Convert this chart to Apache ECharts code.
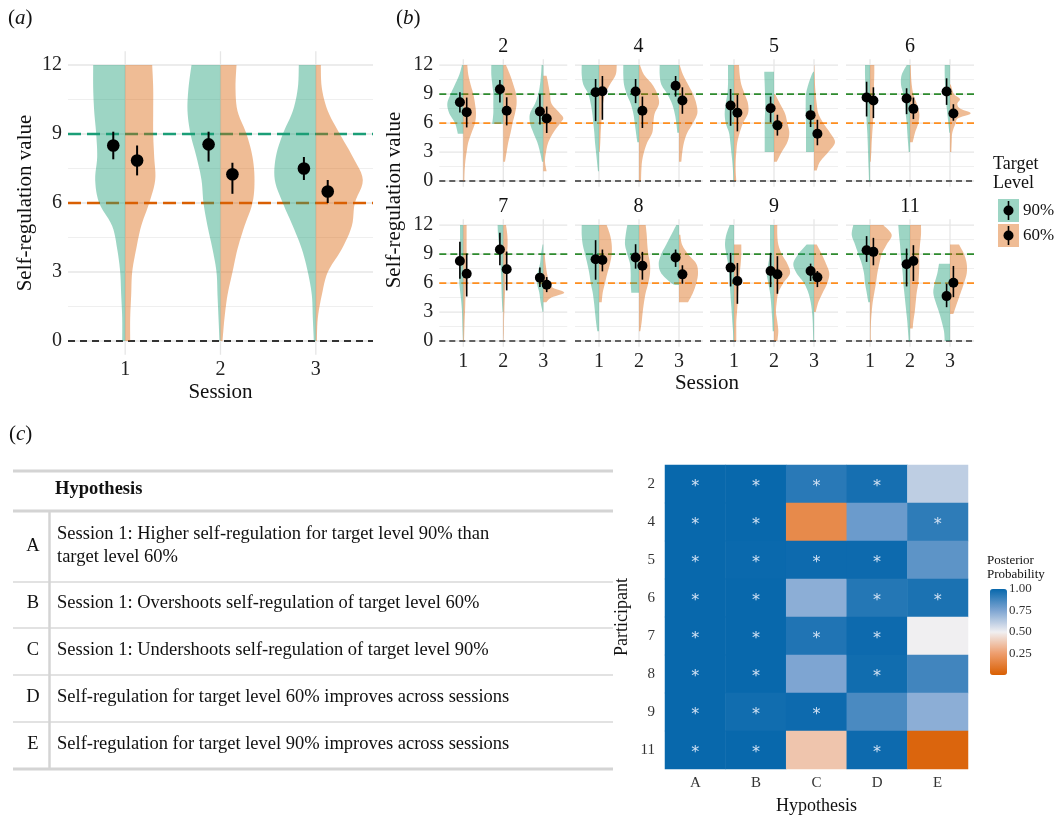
<!DOCTYPE html>
<html><head><meta charset="utf-8">
<script src="https://cdn.jsdelivr.net/npm/echarts@6/dist/echarts.min.js"></script>
<style>html,body{margin:0;padding:0;background:#fff}#c{width:1055px;height:816px}</style>
</head><body><div id="c"></div>
<script>
// ---------------- DATA ----------------
const sessions = ['1', '2', '3'];
const yTicks = [0, 3, 6, 9, 12];
const yGrid = [0, 1.5, 3, 4.5, 6, 7.5, 9, 10.5, 12];
const targetLines = [9, 6, 0];
const levelNames = ['90%', '60%'];

// Panel (a): violin half-widths (relative density) at y = 0..12
const aLevels = [0, 1, 2, 3, 4, 5, 6, 7, 8, 9, 10, 11, 12];
const a90 = [
  [3, 3, 4, 5, 8, 13, 26, 30, 28, 29, 31, 32, 32],
  [1, 2, 3, 4, 8, 13, 17, 19, 24, 30, 33, 32, 29],
  [2, 3, 4, 8, 14, 23, 33, 41, 40, 33, 23, 18, 17]
];
const a60 = [
  [5, 5, 6, 7, 11, 16, 24, 30, 29, 28, 28, 28, 27],
  [2, 4, 7, 12, 17, 24, 32, 34, 32, 26, 17, 15, 16],
  [1, 2, 6, 12, 26, 36, 39, 47, 37, 24, 12, 6, 5]
];
// estimate, lower, upper
const aEst90 = [[8.5, 7.9, 9.1], [8.55, 7.8, 9.1], [7.5, 7.0, 8.0]];
const aEst60 = [[7.85, 7.2, 8.5], [7.25, 6.4, 7.75], [6.5, 6.0, 7.0]];

// Panel (b): participants, violin profiles [value, density] per session
const participants = ['2', '4', '5', '6', '7', '8', '9', '11'];
const p2_90 = [
  [[12,1.3],[11,4],[10,8.3],[9,12.7],[8,16],[7,14],[6,8.3],[5,5.7],[4.9,5.7]],
  [[12,12],[11,12],[10,11],[9,10],[8,10],[7,10],[6,11],[5.9,11]],
  [[12,1.7],[11,2.3],[10,3.3],[9,5],[8,8.3],[7,13.3],[6,13.3],[5,10],[4,6],[3,3.3],[2,1.3]]
];
const p2_60 = [
  [[12,4],[11,5],[10,7.3],[9,10],[8,11.7],[7,12.7],[6,11.7],[5,8.3],[4,5],[3,3.3],[2,2],[1,1.3],[0,1]],
  [[12,2.7],[11,6.7],[10,10],[9,12.7],[8,13.3],[7,11.7],[6,9.3],[5,7.3],[4,5],[3,3.3],[2,1.7]],
  [[10.9,3.3],[10,5],[9,6.7],[8,8.3],[7,16.7],[6.5,20],[6,17],[5,10],[4,5],[3,2.7],[2,1.7],[1,3.3]]
];
const p4_90 = [
  [[12,17.3],[11,17.3],[10,15.7],[9,10.7],[8,8.3],[7,6.7],[6,5.7],[5,4.7],[4,4],[3,3],[2,2],[1,1]],
  [[12,15.7],[11,15.7],[10,15],[9,12.3],[8,8.3],[7,5.7],[6,4.3],[5,3],[4,1.7]],
  [[12,19.3],[11,19.3],[10,17.7],[9,11.7],[8,7],[7,4.3],[6,2.7],[5,1.7]]
];
const p4_60 = [
  [[12,17.7],[11,16.7],[10,11],[9,6],[8,4],[7,3],[6,2.3],[5,1.7],[4,1.3],[3,0.7]],
  [[12,1],[11,5],[10,13.3],[9,18.3],[8,20],[7,15.7],[6,14.3],[5,13.3],[4,8.3],[3,5],[2,3],[1,2.3],[0,2]],
  [[12,0.7],[11,4],[10,9],[9,14],[8,17.3],[7,18.3],[6,14],[5,8.3],[4,5],[3,3.3],[2,2.3]]
];
const p5_90 = [
  [[12,6],[11,6],[10,6],[9,6.7],[8,8.3],[7,9.3],[6,8.3],[5,5],[4,3.7],[3,2.7],[2,1.7],[1,1],[0,0.7]],
  [[11.3,9.7],[11,9.7],[10,9.3],[9,9],[8,8.7],[7,9],[6,9.3],[5,9.3],[4,9.3],[3,9.3]],
  [[11.3,0.7],[11,2.3],[10,5.7],[9,8],[8,8.3],[7,8.3],[6,8],[5,8],[4,8],[3,8]]
];
const p5_60 = [
  [[12,5],[11,5.7],[10,7.3],[9,10.7],[8,14],[7,14],[6,9],[5,5.7],[4,3.3],[3,2.3],[2,1.7],[1,1.7],[0,2.3]],
  [[9,1],[8,6],[7,11],[6,13.3],[5,15.3],[4,13.3],[3,7.7],[2,2.7]],
  [[12,0.3],[11,0.7],[10,1],[9,1.7],[8,2.7],[7,4.3],[6,9.3],[5,16],[4,21],[3,14.3],[2,6],[1.1,2.7]]
];
const p6_90 = [
  [[12,5],[11,5],[10,4.7],[9,4.3],[8,4],[7,3.7],[6,3.3],[5,2.7],[4,2.3],[3,2],[2,1.7],[1,1.3],[0,1]],
  [[12,3.3],[11,8.3],[10,9],[9,6.7],[8,5],[7,4.3],[6,3.3],[5,2.7],[4,2],[3,1.3]],
  [[12,5.3],[11,5.3],[10,5],[9,4.3],[8,3.7],[7,2.7],[6,1.7],[5,0.7]]
];
const p6_60 = [
  [[12,4.3],[11,4.3],[10,4],[9,4],[8,3.7],[7,3.3],[6,3],[5,2.3],[4,1.7],[3,1.3],[2,0.7]],
  [[12,0.7],[11,1],[10,1.7],[9,3.3],[8,6.7],[7,9.3],[6,8.3],[5,5],[4,2.7]],
  [[10,0.7],[9,4],[8.5,10],[8,7.3],[7.5,10],[7,20.7],[6.5,8],[6,5.7],[5,2.3],[4,1.7],[3,1.3]]
];
const p7_90 = [
  [[12,3.3],[11,3.3],[10,3.3],[9,3.7],[8,4],[7,4],[6,4],[5,3],[4,2],[3,1.3],[2,1],[1,0.7],[0,0.3]],
  [[12,5.7],[11,5.3],[10,4.3],[9,3.3],[8,2.7],[7,2.3],[6,2],[5,1.7],[4,1.3],[3,0.7]],
  [[10,0.7],[9,2.3],[8,3.3],[7,5.7],[6,6.3],[5,4],[4,2.7],[3,0.7]]
];
const p7_60 = [
  [[12,3.3],[11,3.3],[10,3.3],[9,3.3],[8,3],[7,3],[6,2.7],[5,2.3],[4,2],[3,1.7],[2,1.3],[1,1],[0,0.7]],
  [[12,2.7],[11,4],[10,4.3],[9,3.7],[8,3],[7,2.3],[6,2],[5,1.7],[4,1.3],[3,1],[2,0.7],[1,0.7],[0,0.3]],
  [[9,1.3],[8,2.3],[7,3.7],[6,6],[5.5,10],[5,21],[4.5,8],[4,3]]
];
const p8_90 = [
  [[12,17.3],[11,17.3],[10,16.3],[9,14],[8,11.7],[7,9.7],[6,8.3],[5,6.3],[4,5],[3,4],[2,3],[1,1.7]],
  [[12,11.7],[11,13.3],[10,14],[9,11.7],[8,9],[7,8.3],[6,8.3],[5,7.7]],
  [[12,2.7],[11,7.7],[10,12.7],[9,17.7],[8,20.3],[7,17.7],[6,7.7],[5.8,4]]
];
const p8_60 = [
  [[12,7.7],[11,11],[10,12.7],[9,12.7],[8,11],[7,8.3],[6,6],[5,3.7],[4,2.7]],
  [[12,6.7],[11,7.7],[10,8.3],[9,9.3],[8,11],[7,11],[6,9.3],[5,6.7],[4,5],[3,3.7],[2,2.7],[1,1.3]],
  [[11,1.3],[10,3],[9,9],[8,17.3],[7,19],[6,17.3],[5,14],[4,9]]
];
const p9_90 = [
  [[12,4.3],[11,7.7],[10,9],[9,7.7],[8,6],[7,5],[6,4.3],[5,3.7],[4,3],[3,2.3],[2,1.7],[1,1],[0,0.7]],
  [[12,4],[11,4],[10,4],[9,4],[8,5.7],[7,7.3],[6,5.7],[5,4],[4,3],[3,2.3],[2,1.7],[1,1.3]],
  [[10,7.3],[9,15.7],[8,20.7],[7,17.3],[6,10],[5,5.7],[4,3.3],[3,2],[2,1.3],[1,1],[0,0.7]]
];
const p9_60 = [
  [[10,7.3],[9,7.3],[8,6.7],[7,5.7],[6,5],[5,4.3],[4,3.7],[3,3],[2,2.3],[1,2.3],[0,2.3]],
  [[12,3.3],[11,3.3],[10,4.3],[9,7.7],[8,13.3],[7,16],[6,9.3],[5,4.3],[4,2.7],[3,2],[2,3.3],[1,4.3],[0,3.3]],
  [[10,2.7],[9,7.7],[8,12],[7,15.3],[6,13.3],[5,8.7],[4,4.3],[3,1.7]]
];
const p11_90 = [
  [[12,16.7],[11,18.3],[10,15],[9,11.7],[8,8.3],[7,6],[6,5],[5,3.3],[4,1.7]],
  [[12,11.7],[11,11],[10,10],[9,9.3],[8,8.3],[7,7.3],[6,6.7],[5,5.7],[4,4.7],[3,3.7],[2,2.7],[1,2],[0,1.3]],
  [[8,11],[7,12.7],[6,15.3],[5,16.7],[4,14.3],[3,11],[2,8.3],[1,6],[0,5.3]]
];
const p11_60 = [
  [[12,13.3],[11,21.7],[10,16.7],[9,11.7],[8,9.3],[7,7.3],[6,6],[5,4.3],[4,2.7],[3,1.7],[2,1],[1,0.7],[0,0.7]],
  [[12,11],[11,11],[10,10],[9,9.3],[8,9.3],[7,9],[6,8.3],[5,6.7],[4,5.7],[3,4.7],[2,3.3],[1.3,2.7]],
  [[10,9],[9,14],[8,16.7],[7,16.7],[6,14],[5,10.7],[4,7.3],[2.8,3.3]]
];
// estimates per participant: [estimate, lower, upper] for sessions 1..3
const bEst90 = [
  [[8.16,7.1,9.19],[9.5,8.12,10.46],[7.2,5.86,8.98]],
  [[9.19,6.2,10.56],[9.26,8.06,10.56],[9.87,8.74,10.87]],
  [[7.82,5.72,9.53],[7.54,6.07,8.74],[6.82,5.59,7.88]],
  [[8.64,6.68,10.28],[8.54,6.92,9.6],[9.26,7.88,10.63]],
  [[8.29,6.45,10.27],[9.47,7.84,11.2],[6.56,5.58,7.6]],
  [[8.46,6.35,10.44],[8.64,7.49,10.02],[8.64,7.67,9.47]],
  [[7.6,5.65,9.12],[7.25,5.58,9.12],[7.25,6.21,8.01]],
  [[9.4,8.19,10.86],[7.94,5.65,9.57],[4.65,3.5,5.93]]
];
const bEst60 = [
  [[7.13,5.55,8.64],[7.27,5.76,8.67],[6.48,4.97,7.71]],
  [[9.29,6.34,10.87],[7.27,5.49,8.74],[8.33,6.96,9.7]],
  [[7.06,5.14,8.91],[5.76,4.7,6.86],[4.9,3.7,6.34]],
  [[8.33,6.51,9.7],[7.47,6.41,8.64],[6.99,6.24,7.95]],
  [[6.97,4.61,9.05],[7.42,5.24,9.26],[5.83,5.06,6.62]],
  [[8.39,7.21,9.47],[7.8,6.35,9.23],[6.9,5.93,7.84]],
  [[6.21,3.85,8.08],[6.9,4.89,8.78],[6.59,5.58,7.25]],
  [[9.23,7.84,10.68],[8.29,6.21,9.92],[6.04,4.54,7.77]]
];

// Panel (c): hypotheses table + posterior probabilities
const hypotheses = ['A', 'B', 'C', 'D', 'E'];
const hypText = [
  'Session 1: Higher self-regulation for target level 90% than\ntarget level 60%',
  'Session 1: Overshoots self-regulation of target level 60%',
  'Session 1: Undershoots self-regulation of target level 90%',
  'Self-regulation for target level 60% improves across sessions',
  'Self-regulation for target level 90% improves across sessions'
];
const postA = [1, 1, 1, 1, 1, 1, 1, 1];
const postB = [1, 1, 0.995, 1, 1, 1, 0.98, 1];
const postC = [0.93, 0.17, 0.99, 0.72, 0.95, 0.75, 0.99, 0.37];
const postD = [0.97, 0.79, 0.99, 0.94, 0.99, 0.98, 0.86, 0.99];
const postE = [0.61, 0.92, 0.82, 0.96, 0.5, 0.88, 0.72, 0.025];
const sigA = [1, 1, 1, 1, 1, 1, 1, 1];
const sigB = [1, 1, 1, 1, 1, 1, 1, 1];
const sigC = [1, 0, 1, 0, 1, 0, 1, 0];
const sigD = [1, 0, 1, 1, 1, 1, 0, 1];
const sigE = [0, 1, 0, 1, 0, 0, 0, 0];
const cbTicks = [0.25, 0.5, 0.75, 1];

// ---------------- STYLE / BUILD ----------------
const FONT = '"Liberation Serif", "Times New Roman", serif';
const G_FILL = 'rgba(27,158,119,0.43)';
const O_FILL = 'rgba(217,95,2,0.42)';
const TICK_FS = 20, TITLE_FS = 21, TABLE_FS = 18.5;
const bV90 = [p2_90, p4_90, p5_90, p6_90, p7_90, p8_90, p9_90, p11_90];
const bV60 = [p2_60, p4_60, p5_60, p6_60, p7_60, p8_60, p9_60, p11_60];

function smoothPts(pts, n) {
  if (pts.length < 3) return pts;
  const out = [pts[0]];
  for (let i = 0; i < pts.length - 1; i++) {
    const p0 = pts[Math.max(i - 1, 0)], p1 = pts[i], p2 = pts[i + 1], p3 = pts[Math.min(i + 2, pts.length - 1)];
    for (let k = 1; k <= n; k++) {
      const t = k / n, t2 = t * t, t3 = t2 * t;
      const f = (a, b, c, d) => 0.5 * (2 * b + (-a + c) * t + (2 * a - 5 * b + 4 * c - d) * t2 + (-a + 3 * b - 3 * c + d) * t3);
      out.push([f(p0[0], p1[0], p2[0], p3[0]), f(p0[1], p1[1], p2[1], p3[1])]);
    }
  }
  return out;
}
function violinShape(api, profile, center, side, scale, fill) {
  const pts = profile.map(([y, w]) => api.coord([center + side * w * scale, y]));
  const cx = api.coord([center, 0])[0];
  const sm = smoothPts(pts, 6).map(p => [side < 0 ? Math.min(p[0], cx) : Math.max(p[0], cx), p[1]]);
  const top = api.coord([center, profile[0][0]]);
  const bot = api.coord([center, profile[profile.length - 1][0]]);
  return { type: 'polygon', shape: { points: [top].concat(sm, [bot]) }, style: { fill: fill, stroke: null } };
}

const grids = [], xAxes = [], yAxes = [], series = [];
function addGridLines(gi) {
  const data = yGrid.map(v => [0, v]).concat([1, 2, 3].map(v => [1, v]));
  series.push({
    type: 'custom', xAxisIndex: gi, yAxisIndex: gi, z: 1, silent: true, data: data,
    renderItem: (params, api) => {
      const cs = params.coordSys, o = api.value(0), v = api.value(1);
      const major = o === 1 || v % 3 === 0;
      const st = { stroke: major ? '#e6e6e6' : '#efefef', lineWidth: major ? 1.3 : 1 };
      if (o === 0) { const y = api.coord([1, v])[1]; return { type: 'line', shape: { x1: cs.x, y1: y, x2: cs.x + cs.width, y2: y }, style: st }; }
      const x = api.coord([v, 0])[0];
      return { type: 'line', shape: { x1: x, y1: cs.y, x2: x, y2: cs.y + cs.height }, style: st };
    }
  });
}
function addRefLines(gi, colors, widths, dashes) {
  series.push({
    type: 'custom', xAxisIndex: gi, yAxisIndex: gi, z: 2, silent: true,
    data: targetLines.map((v, i) => [i, v]),
    renderItem: (params, api) => {
      const cs = params.coordSys, i = api.value(0), y = api.coord([1, api.value(1)])[1];
      return { type: 'line', shape: { x1: cs.x, y1: y, x2: cs.x + cs.width, y2: y }, style: { stroke: colors[i], lineWidth: widths[i], lineDash: dashes[i] } };
    }
  });
}
function addViolins(gi, v90, v60, scale, isA) {
  const data = [];
  for (let s = 0; s < 3; s++) for (let l = 0; l < 2; l++) data.push([s + 1, l]);
  series.push({
    type: 'custom', xAxisIndex: gi, yAxisIndex: gi, z: 3, silent: true, data: data,
    renderItem: (params, api) => {
      const s = api.value(0), l = api.value(1);
      let prof = (l === 0 ? v90 : v60)[s - 1];
      if (isA) prof = aLevels.map((y, k) => [y, prof[k]]).reverse();
      return violinShape(api, prof, s, l === 0 ? -1 : 1, scale, l === 0 ? G_FILL : O_FILL);
    }
  });
}
function addPoints(gi, e90, e60, dodge, r, lw) {
  const data = [];
  for (let s = 0; s < 3; s++) for (let l = 0; l < 2; l++) data.push([s + 1, l]);
  series.push({
    type: 'custom', xAxisIndex: gi, yAxisIndex: gi, z: 4, silent: true, data: data,
    renderItem: (params, api) => {
      const s = api.value(0), l = api.value(1);
      const e = (l === 0 ? e90 : e60)[s - 1];
      const x = s + (l === 0 ? -dodge : dodge);
      const pm = api.coord([x, e[0]]), plo = api.coord([x, e[1]]), phi = api.coord([x, e[2]]);
      return { type: 'group', children: [
        { type: 'line', shape: { x1: plo[0], y1: plo[1], x2: phi[0], y2: phi[1] }, style: { stroke: '#000', lineWidth: lw } },
        { type: 'circle', shape: { cx: pm[0], cy: pm[1], r: r }, style: { fill: '#000' } }
      ] };
    }
  });
}
function xAx(gi, showLabels, extra) {
  return Object.assign({
    gridIndex: gi, type: 'value', min: 0.4, max: 3.6,
    axisLine: { show: false }, axisTick: { show: false }, splitLine: { show: false },
    axisLabel: { show: showLabels, customValues: [1, 2, 3], formatter: v => sessions[Math.round(v) - 1] || '',
      fontFamily: FONT, fontSize: TICK_FS, color: '#222', margin: 5 }
  }, extra || {});
}
function yAx(gi, showLabels, extra) {
  return Object.assign({
    gridIndex: gi, type: 'value', min: -0.6, max: 12.6,
    axisLine: { show: false }, axisTick: { show: false }, splitLine: { show: false },
    axisLabel: { show: showLabels, customValues: yTicks, formatter: v => String(v),
      fontFamily: FONT, fontSize: TICK_FS, color: '#222', margin: 6 }
  }, extra || {});
}

// Panel (a)
grids.push({ left: 68, top: 51.2, width: 305, height: 303.6 });
xAxes.push(xAx(0, true, { name: 'Session', nameLocation: 'middle', nameGap: 27,
  nameTextStyle: { fontFamily: FONT, fontSize: TITLE_FS, color: '#111' } }));
yAxes.push(yAx(0, true, { name: 'Self-regulation value', nameLocation: 'middle', nameGap: 32, nameRotate: 90,
  nameTextStyle: { fontFamily: FONT, fontSize: TITLE_FS, color: '#111' } }));
addGridLines(0);
addRefLines(0, ['#1b9e77', '#d95f02', '#333'], [2.5, 2.5, 2], [[13, 6], [13, 6], [7, 5]]);
addViolins(0, a90, a60, 1 / 95.3, true);
addPoints(0, aEst90, aEst60, 0.125, 6.3, 2);

// Panel (b)
const bLefts = [439.3, 575, 710, 846], bTops = [59.3, 219.3];
for (let i = 0; i < 8; i++) {
  const gi = i + 1, row = i < 4 ? 0 : 1, col = i % 4;
  grids.push({ left: bLefts[col], top: bTops[row], width: 128, height: 127.5 });
  xAxes.push(xAx(gi, row === 1));
  yAxes.push(yAx(gi, col === 0));
  addGridLines(gi);
  addRefLines(gi, ['#2e8b2e', '#ff8f1f', '#333'], [1.7, 1.7, 1.7], [[7, 4], [7, 4], [6, 4]]);
  addViolins(gi, bV90[i], bV60[i], 1 / 40, false);
  addPoints(gi, bEst90[i], bEst60[i], 0.085, 5, 1.6);
}

// Panel (c) heatmap
const hmGi = 9;
grids.push({ left: 665, top: 465, width: 303, height: 307 });
xAxes.push({ gridIndex: hmGi, type: 'category', data: hypotheses, axisLine: { show: false }, axisTick: { show: false },
  splitLine: { show: false }, axisLabel: { fontFamily: FONT, fontSize: 15, color: '#333', margin: 7 },
  name: 'Hypothesis', nameLocation: 'middle', nameGap: 28, nameTextStyle: { fontFamily: FONT, fontSize: 18, color: '#111' } });
yAxes.push({ gridIndex: hmGi, type: 'category', data: participants, inverse: true, axisLine: { show: false }, axisTick: { show: false },
  splitLine: { show: false }, axisLabel: { fontFamily: FONT, fontSize: 15, color: '#333', margin: 10 },
  name: 'Participant', nameLocation: 'middle', nameGap: 34, nameRotate: 90, nameTextStyle: { fontFamily: FONT, fontSize: 18, color: '#111' } });
const posts = [postA, postB, postC, postD, postE], sigs = [sigA, sigB, sigC, sigD, sigE];
const hmData = [];
posts.forEach((arr, h) => arr.forEach((v, p) => hmData.push([h, p, v, sigs[h][p]])));
const hmSeriesIndex = series.length;
series.push({ type: 'heatmap', xAxisIndex: hmGi, yAxisIndex: hmGi, data: hmData, silent: true,
  itemStyle: { borderWidth: 0 },
  label: { show: true, formatter: p => p.data[3] ? '*' : '', color: '#d2e2f4', fontSize: 16, fontFamily: 'DejaVu Sans', offset: [0, 3] },
  emphasis: { disabled: true } });

// colour bar labels axis
const cbGi = 10;
grids.push({ left: 990, top: 589, width: 17, height: 86 });
xAxes.push({ gridIndex: cbGi, type: 'value', show: false });
yAxes.push({ gridIndex: cbGi, type: 'value', min: 0, max: 1, position: 'right', z: 10,
  axisLine: { show: false }, splitLine: { show: false },
  axisTick: { show: true, inside: true, length: 3, customValues: cbTicks, lineStyle: { color: '#fff', width: 1 } },
  axisLabel: { customValues: cbTicks, formatter: v => v.toFixed(2), fontFamily: FONT, fontSize: 13, color: '#333', margin: 2 } });

// ---------------- TEXT / TABLE GRAPHICS ----------------
const graphic = [];
function txt(x, y, text, size, opts) {
  graphic.push(Object.assign({ type: 'text', x: x, y: y, silent: true,
    style: Object.assign({ text: text, font: size + 'px ' + FONT, fill: '#111', align: 'left', verticalAlign: 'middle' }, (opts && opts.style) || {}) },
    (opts && opts.el) || {}));
}
function panelLabel(x, y, letter) {
  graphic.push({ type: 'text', x: x, y: y, silent: true, style: { text: '({i|' + letter + '})', font: '21px ' + FONT, fill: '#111', verticalAlign: 'middle',
    rich: { i: { fontStyle: 'italic', fontSize: 21, fontFamily: FONT } } } });
}
panelLabel(8, 18, 'a');
panelLabel(396, 18, 'b');
panelLabel(9, 434, 'c');
const facetX = [503.3, 638.5, 774, 910], facetY = [47, 207];
participants.forEach((p, i) => txt(facetX[i % 4], facetY[i < 4 ? 0 : 1], p, 20, { style: { align: 'center' } }));
txt(394, 200, 'Self-regulation value', TITLE_FS, { style: { align: 'center' }, el: { rotation: Math.PI / 2 } });
txt(707, 383, 'Session', TITLE_FS, { style: { align: 'center' } });
// legend (b)
txt(993, 164, 'Target', 18);
txt(993, 183, 'Level', 18);
const legY = [199, 224];
[G_FILL, O_FILL].forEach((c, i) => {
  graphic.push({ type: 'rect', silent: true, shape: { x: 998, y: legY[i], width: 21, height: 23 }, style: { fill: c } });
  graphic.push({ type: 'line', silent: true, shape: { x1: 1008.5, y1: legY[i] + 2, x2: 1008.5, y2: legY[i] + 21 }, style: { stroke: '#000', lineWidth: 1.6 } });
  graphic.push({ type: 'circle', silent: true, shape: { cx: 1008.5, cy: legY[i] + 11.5, r: 5 }, style: { fill: '#000' } });
  txt(1023, legY[i] + 12, levelNames[i], 17);
});
// colour bar title
txt(987, 561, 'Posterior', 13);
txt(987, 575, 'Probability', 13);
// table
const TL = 13, TR = 613;
function hline(y, w, c) { graphic.push({ type: 'line', silent: true, shape: { x1: TL, y1: y, x2: TR, y2: y }, style: { stroke: c, lineWidth: w } }); }
hline(471, 3, '#d4d4d4');
hline(511, 3, '#d4d4d4');
[582, 628, 675, 722].forEach(y => hline(y, 1.8, '#e2e2e2'));
hline(769, 3, '#d4d4d4');
graphic.push({ type: 'line', silent: true, shape: { x1: 49.5, y1: 511, x2: 49.5, y2: 769 }, style: { stroke: '#d4d4d4', lineWidth: 2.5 } });
txt(55, 489, 'Hypothesis', TABLE_FS, { style: { font: 'bold ' + TABLE_FS + 'px ' + FONT } });
const rowY = [546, 603, 650, 697, 744];
hypotheses.forEach((h, i) => {
  txt(33, rowY[i], h, TABLE_FS, { style: { align: 'center' } });
  txt(57, rowY[i], hypText[i], TABLE_FS, { style: { lineHeight: 23 } });
});

const option = {
  backgroundColor: '#fff',
  animation: false,
  grid: grids,
  xAxis: xAxes,
  yAxis: yAxes,
  visualMap: [{ type: 'continuous', min: 0, max: 1, seriesIndex: hmSeriesIndex, dimension: 2,
    left: 990, top: 589, itemWidth: 17, itemHeight: 86, padding: 0, calculable: false, hoverLink: false,
    text: ['', ''], orient: 'vertical',
    inRange: { color: ['#d95f02', '#ee9e6e', '#f0eff1', '#7ea5d2', '#0868ac'] } }],
  series: series,
  graphic: graphic
};
const chart = echarts.init(document.getElementById('c'), null, { renderer: 'canvas' });
chart.setOption(option);
</script></body></html>
